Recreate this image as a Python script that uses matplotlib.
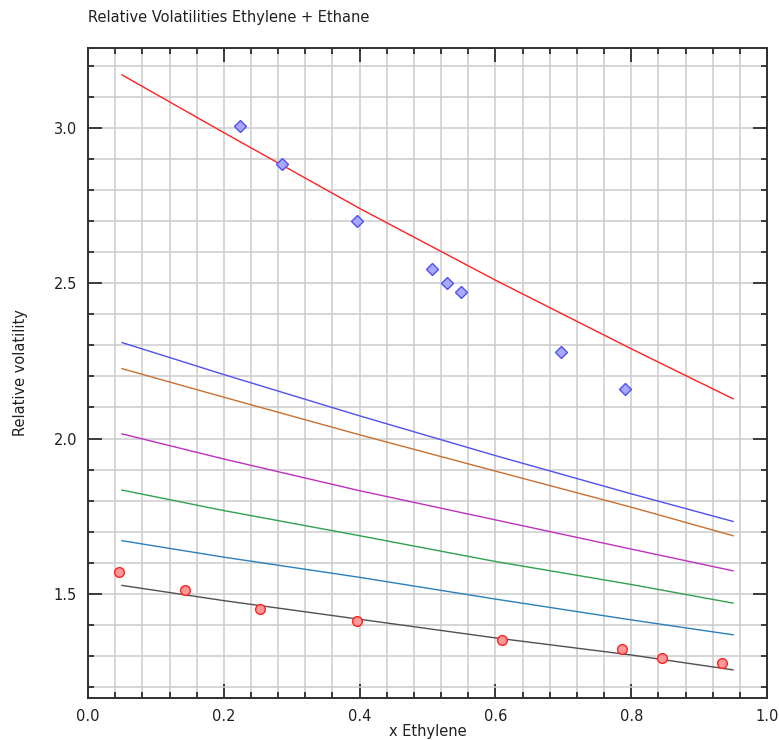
import matplotlib
matplotlib.use("Agg")
import matplotlib.pyplot as plt
from matplotlib.ticker import MultipleLocator, FormatStrFormatter

# Model curves (x Ethylene -> relative volatility)
x_curve = [0.05, 0.2, 0.4, 0.6, 0.8, 0.95]
curve_red = [3.171, 2.985, 2.741, 2.51, 2.289, 2.128]
curve_blue = [2.309, 2.206, 2.073, 1.945, 1.822, 1.733]
curve_orange = [2.225, 2.133, 2.012, 1.895, 1.779, 1.687]
curve_magenta = [2.015, 1.934, 1.832, 1.738, 1.644, 1.574]
curve_green = [1.834, 1.768, 1.687, 1.604, 1.530, 1.470]
curve_teal = [1.671, 1.618, 1.553, 1.483, 1.416, 1.368]
curve_gray = [1.527, 1.478, 1.418, 1.358, 1.303, 1.255]

# Experimental points
x_upper = [0.2235, 0.285, 0.396, 0.506, 0.529, 0.550, 0.696, 0.791]
y_upper = [3.007, 2.885, 2.700, 2.545, 2.500, 2.471, 2.279, 2.161]
x_lower = [0.045, 0.1426, 0.2534, 0.3956, 0.6098, 0.786, 0.8451, 0.934]
y_lower = [1.569, 1.511, 1.451, 1.411, 1.350, 1.322, 1.293, 1.277]

fig = plt.figure(figsize=(7.79, 7.40), dpi=100)
ax = fig.add_axes([0.113, 0.0574, 0.8716, 0.8771])

curves = [
    (curve_red, "#ff2020"),
    (curve_blue, "#5050ee"),
    (curve_orange, "#c87030"),
    (curve_magenta, "#c030c0"),
    (curve_green, "#30a050"),
    (curve_teal, "#2a80b9"),
    (curve_gray, "#505050"),
]
for ys, c in curves:
    ax.plot(x_curve, ys, color=c, lw=1.0, zorder=3)

ax.plot(x_upper, y_upper, ls="none", marker="D", ms=6, mfc="#a8a8ff",
        mec="#5050ee", mew=1.0, zorder=4)
ax.plot(x_lower, y_lower, ls="none", marker="o", ms=7, mfc="#ff9898",
        mec="#ff2020", mew=1.0, zorder=4)

ax.set_xlim(0.0, 1.0)
ax.set_ylim(1.166, 3.256)
ax.xaxis.set_major_locator(MultipleLocator(0.2))
ax.xaxis.set_minor_locator(MultipleLocator(0.04))
ax.yaxis.set_major_locator(MultipleLocator(0.5))
ax.yaxis.set_minor_locator(MultipleLocator(0.1))
ax.xaxis.set_major_formatter(FormatStrFormatter("%.1f"))
ax.yaxis.set_major_formatter(FormatStrFormatter("%.1f"))

ax.grid(True, which="both", color="#cccccc", lw=1.1, zorder=0)
ax.set_axisbelow(True)
ax.tick_params(which="both", direction="in", top=True, right=True,
               color="#202020", labelsize=10.5, labelcolor="#202020")
ax.tick_params(which="major", length=10, width=1.2, pad=8)
ax.tick_params(which="minor", length=4, width=1.2)
for sp in ax.spines.values():
    sp.set_linewidth(1.4)
    sp.set_color("#303030")

ax.set_xlabel("x Ethylene", fontsize=10.5, color="#202020", labelpad=0)
ax.set_ylabel("Relative volatility", fontsize=10.5, color="#202020", labelpad=18)
fig.text(0.113, 0.977, "Relative Volatilities Ethylene + Ethane", fontsize=10.5,
         color="#202020", ha="left", va="center")

fig.savefig("out.png", dpi=100)
